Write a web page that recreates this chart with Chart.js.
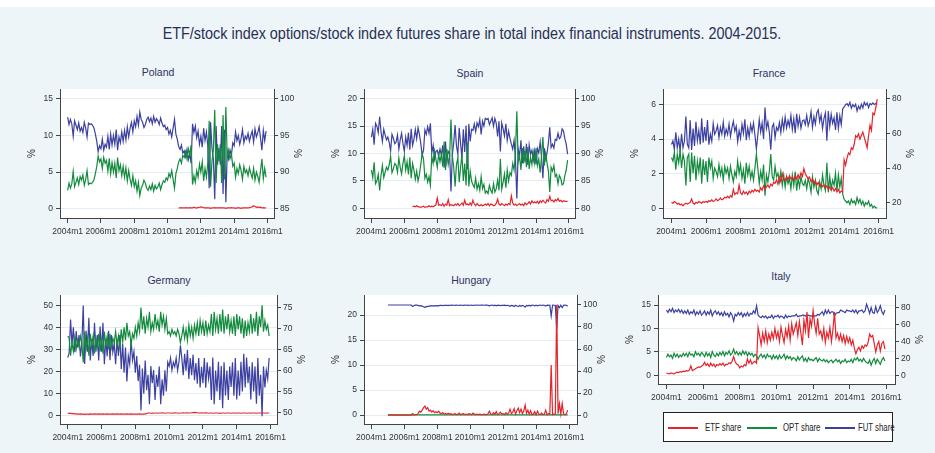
<!DOCTYPE html>
<html>
<head>
<meta charset="utf-8">
<script src="https://cdn.jsdelivr.net/npm/chart.js@4.4.0/dist/chart.umd.min.js"></script>
<style>
  html, body { margin:0; padding:0; }
  body { width:935px; height:453px; background:#fff; position:relative; overflow:hidden;
         font-family:"Liberation Sans",Arial,sans-serif; }
  #bg { position:absolute; left:0; top:7px; width:935px; height:446px; background:#EDF5F8; }
  #title { position:absolute; top:25px; left:472px; font-size:16px; color:#2a2f55; white-space:nowrap;
           transform:translateX(-50%) scaleX(0.9); }
  .ptitle { position:absolute; font-size:10.5px; color:#2d3263; transform:translate(-50%,-50%); white-space:nowrap; }
  .panel { position:absolute; }
  #legend { position:absolute; left:663px; top:412px; width:228px; height:28px; background:#fff; border:1px solid #222; }
  .lg-line { position:absolute; top:14px; width:30px; height:1.5px; }
  .lg-txt { position:absolute; top:8px; font-size:10.5px; color:#222; white-space:nowrap;
            transform:scaleX(0.74); transform-origin:0 0; }
</style>
</head>
<body>
<div id="bg"></div>
<div id="title">ETF/stock index options/stock index futures share in total index financial instruments. 2004-2015.</div>
<div id="legend"></div>
<script>
// monthly values, 2004m1 .. 2015m12 (one row per year)
const seriesNames = ["ETF share", "OPT share", "FUT share"];
const xTicks = [0, 24, 48, 72, 96, 120, 144];
const xLabels = ["2004m1", "2006m1", "2008m1", "2010m1", "2012m1", "2014m1", "2016m1"];

// ---- Poland
const polandETF = Array(80).fill(null).concat([
  0.1, 0.1, 0.15, 0.1,
  0.1, 0.15, 0.1, 0.1, 0.15, 0.1, 0.1, 0.2, 0.1, 0.1, 0.15, 0.2,
  0.25, 0.2, 0.15, 0.1, 0.1, 0.1, 0.1, 0.05, 0.1, 0.1, 0.15, 0.1,
  0.1, 0.1, 0.15, 0.1, 0.1, 0.1, 0.05, 0.1, 0.1, 0.1, 0.15, 0.1,
  0.1, 0.05, 0.1, 0.1, 0.1, 0.05, 0.1, 0.1, 0.1, 0.1, 0.1, 0.15,
  0.2, 0.25, 0.4, 0.3, 0.2, 0.25, 0.15, 0.2, 0.1, 0.15, 0.1, 0.1]);
const polandOPT = [
  2.5, 3.5, 2.8, 3.4, 5.1, 3.0, 3.6, 4.2, 3.3, 4.4, 3.9, 4.6,
  3.2, 4.0, 5.2, 3.3, 3.5, 3.4, 3.6, 4.0, 4.8, 5.8, 7.2, 6.4,
  6.8, 5.5, 7.0, 6.2, 6.6, 5.1, 6.9, 4.8, 6.3, 5.0, 6.2, 4.2,
  7.0, 5.2, 6.0, 4.5, 5.8, 4.3, 5.6, 3.8, 5.2, 4.0, 3.2, 4.5,
  3.0, 3.8, 2.4, 3.6, 1.8, 2.8, 3.2, 3.9, 3.5, 2.8, 2.5, 3.1,
  2.6, 3.4, 2.4, 3.2, 2.7, 3.0, 3.5, 2.6, 3.3, 3.8, 3.6, 4.2,
  3.9, 4.8, 4.3, 5.2, 4.0, 2.8, 4.8, 5.5, 6.4, 6.8, 6.2, 7.3,
  7.0, 7.8, 6.8, 8.2, 7.4, 8.7, 3.3, 4.5, 3.6, 5.2, 4.3, 6.1,
  5.0, 6.4, 3.8, 5.5, 4.3, 6.2, 12.0, 3.0, 6.5, 8.0, 13.5, 3.5,
  8.8, 6.5, 8.8, 3.5, 12.8, 4.0, 13.9, 7.0, 8.0, 6.8, 7.5, 5.8,
  6.2, 4.3, 5.5, 4.8, 6.0, 5.2, 4.0, 5.8, 4.9, 5.3, 4.5, 5.6,
  4.8, 4.2, 5.5, 3.9, 5.0, 4.4, 3.6, 5.2, 6.8, 4.1, 5.5, 4.3];
const polandFUT = [
  97.5, 96.5, 97.2, 96.6, 94.9, 97.0, 96.4, 95.8, 96.7, 95.6, 96.1, 95.4,
  96.8, 96.0, 94.8, 96.7, 96.5, 96.6, 96.4, 96.0, 95.2, 94.2, 92.8, 93.6,
  93.2, 94.5, 93.0, 93.8, 93.4, 94.9, 93.1, 95.2, 93.7, 95.0, 93.8, 95.8,
  93.0, 94.8, 94.0, 95.5, 94.2, 95.7, 94.4, 96.2, 94.8, 96.0, 96.8, 95.5,
  97.0, 96.2, 97.6, 96.4, 98.2, 97.2, 96.8, 96.1, 96.5, 97.2, 97.5, 96.9,
  97.4, 96.6, 97.6, 96.8, 97.3, 97.0, 96.5, 97.4, 96.7, 96.2, 96.4, 95.8,
  96.1, 95.2, 95.7, 94.8, 96.0, 97.2, 95.2, 94.5, 93.5, 93.1, 93.7, 92.6,
  92.9, 92.1, 93.1, 91.7, 92.5, 91.2, 96.6, 95.4, 96.3, 94.7, 95.6, 93.8,
  94.9, 93.4, 96.0, 94.3, 95.5, 93.6, 87.8, 96.8, 93.3, 91.8, 86.3, 96.3,
  91.0, 93.3, 91.0, 96.3, 87.0, 95.8, 85.9, 92.8, 91.8, 93.0, 92.3, 94.0,
  93.6, 95.5, 94.3, 95.0, 93.8, 94.6, 95.8, 94.0, 94.9, 94.5, 95.3, 94.2,
  95.0, 95.6, 94.1, 95.9, 94.8, 95.4, 96.2, 94.6, 93.0, 95.7, 94.3, 95.6];

// ---- Spain
const spainETF = Array(30).fill(null).concat([
  0.3, 0.4, 0.3, 0.5, 0.3, 0.3,
  0.2, 0.3, 0.4, 0.2, 0.3, 0.3, 0.5, 0.3, 0.4, 0.3, 0.5, 0.6,
  1.9, 0.6, 0.7, 0.5, 0.9, 0.4, 0.8, 0.6, 1.6, 0.5, 0.7, 0.6,
  0.5, 0.8, 0.6, 0.9, 0.5, 0.7, 1.0, 0.6, 1.5, 0.7, 0.8, 0.6,
  1.0, 0.6, 1.5, 0.8, 0.5, 0.9, 0.6, 0.5, 0.7, 0.5, 0.6, 0.8,
  0.6, 0.9, 0.5, 0.8, 0.7, 0.5, 0.6, 0.9, 1.7, 0.8, 0.6, 0.9,
  0.7, 0.5, 0.8, 0.6, 0.9, 0.7, 2.3, 1.0, 0.6, 0.8, 0.5, 0.7,
  0.9, 0.6, 0.8, 0.5, 1.0, 0.7, 0.9, 1.2, 0.8, 1.4, 1.0, 1.2,
  1.0, 1.3, 0.9, 1.4, 1.1, 1.5, 1.2, 1.0, 1.6, 1.3, 2.2, 1.4,
  1.5, 1.2, 1.6, 1.4, 1.8, 1.3, 1.5, 1.2, 1.4, 1.3, 1.3, 1.3]);
const spainOPT = [
  7.0, 5.6, 8.4, 4.5, 5.0, 6.2, 3.3, 6.0, 7.8, 5.6, 6.6, 7.5,
  7.0, 8.0, 9.5, 6.5, 7.2, 8.2, 7.9, 6.6, 9.2, 7.5, 6.3, 8.2,
  9.6, 7.0, 8.5, 6.2, 9.3, 5.5, 8.2, 7.0, 5.3, 6.8, 5.0, 6.2,
  8.0, 10.0, 9.0, 5.5, 6.2, 4.8, 5.8, 4.2, 9.5, 8.2, 10.5, 9.0,
  7.5, 9.8, 8.5, 9.8, 7.6, 12.2, 7.0, 10.8, 8.0, 9.5, 16.2, 9.6,
  7.5, 4.0, 8.0, 9.2, 4.8, 7.5, 9.8, 5.0, 8.2, 4.2, 12.0, 4.0,
  6.8, 5.0, 4.3, 3.8, 5.5, 3.5, 4.5, 3.3, 5.8, 3.6, 4.4, 2.8,
  3.2, 2.7, 4.2, 3.3, 2.8, 4.5, 3.0, 3.6, 5.2, 3.3, 9.0, 3.5,
  4.8, 6.3, 3.8, 7.0, 5.0, 6.5, 6.0, 8.2, 7.0, 10.2, 17.7, 8.5,
  9.5, 7.0, 11.0, 8.2, 10.5, 7.5, 11.2, 7.2, 9.3, 8.0, 10.2, 8.3,
  11.0, 7.8, 9.0, 6.5, 9.5, 13.0, 7.8, 10.0, 8.3, 6.8, 3.0, 7.5,
  6.8, 7.8, 5.8, 6.2, 4.5, 6.0, 5.5, 4.3, 4.5, 6.0, 7.0, 8.8];
const spainFUT = [
  93.0, 94.4, 91.6, 95.5, 95.0, 93.8, 96.7, 94.0, 92.2, 94.4, 93.4, 92.5,
  93.0, 92.0, 90.5, 93.5, 92.8, 91.8, 92.1, 93.4, 90.8, 92.5, 93.7, 91.8,
  90.4, 93.0, 91.5, 93.8, 90.7, 94.5, 91.5, 92.6, 94.4, 92.7, 94.7, 93.5,
  91.8, 89.7, 90.6, 94.3, 93.5, 94.9, 93.7, 95.5, 90.1, 91.5, 89.0, 90.4,
  90.6, 89.6, 90.8, 89.7, 91.5, 87.4, 92.2, 88.6, 90.4, 90.0, 83.1, 89.8,
  92.0, 95.2, 91.4, 89.9, 94.7, 91.8, 89.2, 94.4, 90.3, 95.1, 87.2, 95.4,
  92.2, 94.4, 94.2, 95.4, 94.0, 95.6, 94.9, 96.2, 93.5, 95.9, 95.0, 96.4,
  96.2, 96.4, 95.3, 95.9, 96.5, 95.0, 96.4, 95.5, 93.1, 95.9, 90.4, 95.6,
  94.5, 93.2, 95.4, 92.4, 94.1, 92.8, 91.7, 90.8, 92.4, 89.0, 81.8, 90.8,
  89.6, 92.4, 88.2, 91.3, 88.5, 91.8, 87.9, 91.6, 89.9, 90.6, 88.8, 90.5,
  88.0, 90.9, 90.1, 92.1, 89.4, 85.5, 91.0, 89.0, 90.1, 91.9, 94.8, 91.1,
  91.7, 91.0, 92.6, 92.4, 93.7, 92.7, 93.0, 94.5, 94.1, 92.7, 91.7, 89.9];

// ---- France
const franceETF = [
  0.35, 0.30, 0.40, 0.35, 0.25, 0.30, 0.20, 0.25, 0.15, 0.25, 0.30, 0.25,
  0.30, 0.35, 0.55, 0.30, 0.25, 0.35, 0.30, 0.40, 0.35, 0.30, 0.40, 0.35,
  0.40, 0.35, 0.45, 0.40, 0.50, 0.40, 0.45, 0.55, 0.45, 0.50, 0.60, 0.50,
  0.55, 0.65, 0.60, 0.70, 0.60, 0.75, 0.65, 1.10, 0.80, 0.90, 0.85, 1.35,
  0.90, 0.80, 1.00, 0.85, 0.95, 0.80, 1.00, 0.90, 1.05, 0.95, 1.10, 1.00,
  1.05, 0.95, 1.20, 1.05, 1.30, 1.10, 1.25, 1.35, 1.20, 1.40, 1.30, 1.50,
  1.45, 1.65, 1.40, 1.80, 1.55, 2.00, 1.70, 1.60, 1.85, 1.65, 1.90, 1.70,
  1.80, 1.65, 1.90, 1.70, 1.95, 1.75, 2.05, 1.85, 2.30, 2.00, 1.85, 1.70,
  1.80, 1.55, 1.70, 1.45, 1.60, 1.35, 1.50, 1.30, 1.40, 1.25, 1.35, 1.20,
  1.30, 1.10, 1.25, 1.05, 1.20, 1.00, 1.15, 0.95, 1.10, 0.90, 1.00, 0.95,
  2.80, 2.50, 2.90, 3.20, 3.10, 3.50, 3.40, 3.70, 4.20, 4.10, 4.30, 4.00,
  4.20, 4.40, 4.10, 3.80, 3.50, 4.20, 4.80, 4.50, 5.50, 5.40, 5.80, 6.30];
const franceOPT = [
  46, 44, 49, 39, 48, 43, 50, 40, 48, 44, 30, 46,
  48, 32, 49, 37, 47, 33, 44, 38, 46, 31, 45, 36,
  44, 32, 46, 40, 44, 34, 40, 38, 35, 42, 36, 40,
  33, 41, 37, 40, 34, 41, 36, 32, 38, 35, 44, 37,
  42, 34, 39, 31, 43, 36, 41, 34, 38, 33, 40, 48,
  40, 31, 38, 33, 42, 24, 36, 32, 38, 48, 35, 33,
  41, 35, 37, 32, 38, 30, 36, 29, 35, 31, 34, 28,
  36, 30, 38, 27, 34, 29, 35, 31, 30, 33, 28, 34,
  31, 26, 35, 29, 33, 27, 25, 32, 28, 36, 30, 27,
  43, 26, 35, 28, 33, 30, 37, 27, 36, 29, 34, 25,
  22, 21, 20, 21, 19, 22, 20, 21, 19, 23, 20, 22,
  19, 21, 18, 20, 19, 21, 18, 19, 17, 18, 17, 17];
const franceFUT = [
  53.6, 55.7, 50.6, 60.6, 51.7, 56.7, 49.8, 59.7, 51.8, 55.7, 69.7, 53.7,
  51.7, 67.6, 50.4, 62.7, 52.7, 66.6, 55.7, 61.6, 53.6, 68.7, 54.6, 63.6,
  55.6, 67.6, 53.5, 59.6, 55.5, 65.6, 59.5, 61.4, 64.5, 57.5, 63.4, 59.5,
  66.4, 58.3, 62.4, 59.3, 65.4, 58.2, 63.3, 66.9, 61.2, 64.1, 55.1, 61.6,
  57.1, 65.2, 60.0, 68.1, 56.0, 63.2, 58.0, 65.1, 61.0, 66.0, 58.9, 51.0,
  59.0, 68.0, 60.8, 65.9, 56.7, 74.9, 62.8, 66.6, 60.8, 50.6, 63.7, 65.5,
  57.5, 63.4, 61.6, 66.2, 60.5, 68.0, 62.3, 69.4, 63.2, 67.4, 64.1, 70.3,
  62.2, 68.4, 60.1, 71.3, 64.1, 69.3, 62.9, 67.2, 67.7, 65.0, 70.2, 64.3,
  67.2, 72.5, 63.3, 69.6, 65.4, 71.7, 73.5, 66.7, 70.6, 62.8, 68.7, 71.8,
  55.7, 72.9, 63.8, 71.0, 65.8, 69.0, 61.9, 72.1, 62.9, 70.1, 65.0, 74.1,
  75.2, 76.5, 77.1, 75.8, 77.9, 74.5, 76.6, 75.3, 76.8, 72.9, 75.7, 74.0,
  76.8, 74.6, 77.9, 76.2, 77.5, 74.8, 77.2, 76.5, 77.5, 76.6, 77.2, 76.7];

// ---- Germany
const germanyETF = [
  0.9, 0.8, 0.8, 0.7, 0.7, 0.6, 0.6, 0.5, 0.5, 0.6, 0.5, 0.5,
  0.4, 0.5, 0.5, 0.4, 0.6, 0.5, 0.5, 0.6, 0.5, 0.5, 0.6, 0.5,
  0.5, 0.6, 0.5, 0.5, 0.6, 0.5, 0.5, 0.5, 0.6, 0.5, 0.5, 0.6,
  0.5, 0.5, 0.6, 0.5, 0.5, 0.5, 0.6, 0.5, 0.5, 0.6, 0.5, 0.5,
  0.5, 0.5, 0.5, 0.6, 0.5, 0.5, 0.5, 0.6, 0.7, 1.0, 1.0, 0.9,
  1.0, 0.9, 1.0, 1.0, 0.9, 1.0, 1.0, 1.1, 1.0, 0.9, 1.0, 1.0,
  1.0, 1.0, 0.9, 1.0, 1.1, 1.0, 1.0, 0.9, 1.0, 1.0, 1.1, 1.0,
  1.0, 1.1, 1.0, 1.0, 1.1, 1.2, 1.3, 1.2, 1.1, 1.0, 1.0, 1.1,
  1.0, 1.0, 1.1, 1.0, 0.9, 1.0, 1.0, 0.9, 1.0, 1.0, 1.0, 0.9,
  1.0, 0.9, 1.0, 1.0, 0.9, 1.0, 1.0, 1.0, 0.9, 1.0, 1.0, 1.0,
  0.9, 1.0, 1.0, 0.9, 1.0, 1.0, 1.0, 0.9, 1.0, 1.0, 0.9, 1.0,
  1.0, 1.0, 0.9, 1.0, 1.0, 1.0, 0.9, 1.0, 1.0, 0.9, 1.0, 1.0];
const germanyOPT = [
  36, 35, 27, 33, 29, 35, 30, 34, 31, 36, 33, 24,
  38, 30, 35, 27, 37, 32, 36, 28, 35, 31, 37, 29,
  35, 28, 38, 32, 36, 30, 37, 31, 35, 33, 38, 32,
  36, 31, 39, 33, 40, 34, 42, 36, 38, 32, 37, 35,
  40, 36, 42, 38, 49, 39, 45, 37, 44, 40, 47, 38,
  42, 39, 46, 40, 43, 38, 47, 41, 45, 39, 44, 37,
  38, 36, 39, 37, 38, 36, 39, 37, 33, 36, 40, 35,
  39, 34, 41, 36, 40, 35, 41, 37, 42, 36, 43, 38,
  42, 36, 43, 37, 41, 38, 46, 36, 47, 39, 44, 37,
  46, 38, 48, 37, 45, 39, 46, 38, 43, 37, 45, 36,
  46, 39, 45, 37, 44, 35, 43, 36, 42, 38, 46, 37,
  44, 38, 47, 36, 45, 40, 50, 38, 43, 39, 41, 36];
const germanyFUT = [
  63.1, 64.2, 72.2, 66.3, 70.3, 64.4, 69.4, 65.5, 68.5, 63.4, 66.5, 75.5,
  61.6, 69.5, 64.5, 72.6, 62.4, 67.5, 63.5, 71.4, 64.5, 68.5, 62.4, 70.5,
  64.5, 71.4, 61.5, 67.5, 63.4, 69.5, 62.5, 68.5, 64.4, 66.5, 61.5, 67.4,
  63.5, 68.5, 60.4, 66.5, 59.5, 65.5, 57.4, 63.5, 61.5, 67.4, 62.5, 64.5,
  59.5, 63.5, 57.5, 61.4, 50.5, 60.5, 54.5, 62.4, 55.3, 59.0, 52.0, 61.1,
  57.0, 60.1, 53.0, 59.0, 56.1, 61.0, 52.0, 57.9, 54.0, 60.1, 55.0, 62.0,
  61.0, 63.0, 60.1, 62.0, 60.9, 63.0, 60.0, 62.1, 66.0, 63.0, 58.9, 64.0,
  60.0, 64.9, 58.0, 63.0, 58.9, 63.8, 57.7, 61.8, 56.9, 63.0, 56.0, 60.9,
  57.0, 63.0, 55.9, 62.0, 58.1, 61.0, 53.0, 63.1, 52.0, 60.0, 55.0, 62.1,
  53.0, 61.1, 51.0, 62.0, 54.1, 60.0, 53.0, 61.0, 56.1, 62.0, 54.0, 63.0,
  53.1, 60.0, 54.0, 62.1, 55.0, 64.0, 56.0, 63.1, 57.0, 61.0, 53.1, 62.0,
  55.0, 61.0, 52.1, 63.0, 54.0, 59.0, 49.1, 61.0, 56.0, 60.1, 58.0, 63.0];

// ---- Hungary (from 2005m1)
const hungaryETF = Array(12).fill(null).concat([
  0, 0, 0, 0, 0, 0, 0, 0, 0, 0, 0, 0,
  0, 0, 0, 0, 0, 0, 0, 0.05, 0.1, 0.1, 0.3, 0.8,
  0.6, 1.0, 1.5, 1.8, 1.2, 1.5, 0.8, 1.0, 0.6, 0.9, 0.5, 0.7,
  0.5, 0.8, 0.4, 0.3, 0.5, 0.2, 0.3, 0.2, 0.4, 0.2, 0.3, 0.1,
  0.2, 0.3, 0.1, 0.2, 0.4, 0.1, 0.2, 0.3, 0.1, 0.2, 0.1, 0.3,
  0.2, 0.1, 0.4, 0.2, 0.1, 0.2, 0.1, 0.2, 0.1, 0.1, 0.2, 0.1,
  0.1, 0.3, 0.8, 0.2, 0.1, 0.5, 0.2, 0.7, 0.1, 0.3, 0.6, 0.2,
  0.3, 0.1, 0.5, 0.2, 0.4, 1.2, 0.3, 0.6, 1.3, 0.2, 0.9, 1.4,
  0.5, 1.2, 0.3, 0.8, 2.0, 0.4, 1.0, 0.2, 0.9, 0.1, 0.2, 0.7,
  0.1, 0.8, 0.2, 0.1, 0.4, 0.1, 0.2, 1.0, 0.1, 0.3, 0.2, 10.0,
  0.1, 0.2, 0.2, 22.0, 0.3, 2.3, 0.2, 2.3, 0.3, 0.1, 0.2, 1.0]);
const hungaryOPT = Array(12).fill(null).concat([
  0.05, 0.05, 0.05, 0.05, 0.05, 0.05, 0.05, 0.05, 0.05, 0.05, 0.05, 0.05,
  0.05, 0.05, 0.05, 0.05, 0.05, 0.1, 0.3, 0.05, 0.05, 0.05, 0.05, 0.05,
  0.05, 0.05, 0.05, 0.05, 0.05, 0.05, 0.05, 0.05, 0.05, 0.05, 0.05, 0.05,
  0.05, 0.05, 0.05, 0.05, 0.05, 0.05, 0.05, 0.05, 0.05, 0.05, 0.05, 0.05,
  0.05, 0.05, 0.05, 0.05, 0.05, 0.05, 0.05, 0.05, 0.05, 0.05, 0.05, 0.05,
  0.05, 0.05, 0.05, 0.05, 0.05, 0.05, 0.05, 0.05, 0.05, 0.05, 0.05, 0.05,
  0.05, 0.05, 0.05, 0.05, 0.05, 0.05, 0.05, 0.05, 0.05, 0.05, 0.05, 0.05,
  0.05, 0.05, 0.05, 0.05, 0.05, 0.05, 0.05, 0.05, 0.05, 0.05, 0.05, 0.05,
  0.05, 0.05, 0.05, 0.05, 0.05, 0.05, 0.05, 0.05, 0.05, 0.05, 0.05, 0.05,
  0.05, 0.05, 0.05, 0.05, 0.05, 0.05, 0.05, 0.05, 0.05, 0.05, 0.05, 0.05,
  0.05, 0.05, 0.05, 0.05, 0.05, 0.05, 0.05, 0.05, 0.05, 0.05, 0.05, 0.05]);
const hungaryFUT = Array(12).fill(null).concat([
  99.9, 99.9, 99.9, 99.9, 99.9, 99.9, 99.9, 99.9, 99.9, 99.9, 99.9, 99.9,
  99.9, 99.9, 99.9, 99.9, 99.9, 99.8, 98.6, 99.4, 99.8, 99.8, 99.6, 99.1,
  99.3, 98.9, 98.4, 97.6, 98.7, 98.4, 99.1, 98.9, 99.3, 99.0, 99.4, 99.2,
  99.4, 99.1, 99.5, 99.6, 99.4, 99.7, 99.6, 99.7, 99.5, 99.7, 99.6, 99.8,
  99.7, 99.6, 99.8, 99.7, 99.5, 99.8, 99.7, 99.6, 99.8, 99.7, 99.8, 99.6,
  99.7, 99.8, 99.5, 99.7, 99.8, 99.7, 99.8, 99.7, 99.8, 99.8, 99.7, 99.8,
  99.8, 99.6, 99.1, 99.7, 99.8, 99.4, 99.7, 99.2, 99.8, 99.6, 99.3, 99.7,
  99.6, 99.8, 99.4, 99.7, 99.5, 98.7, 99.6, 99.3, 98.6, 99.7, 99.0, 98.5,
  99.4, 98.7, 99.6, 99.1, 97.9, 99.5, 98.9, 99.7, 99.0, 99.8, 99.7, 99.2,
  99.8, 99.1, 99.7, 99.8, 99.5, 99.8, 99.7, 98.9, 99.8, 99.6, 99.7, 89.9,
  99.8, 99.7, 99.7, 77.9, 99.6, 97.6, 99.7, 97.6, 99.6, 99.8, 99.7, 98.9]);

// ---- Italy
const italyETF = [
  0.5, 0.4, 0.3, 0.5, 0.4, 0.3, 0.5, 0.7, 0.6, 0.8, 0.7, 0.9,
  0.8, 1.0, 0.9, 1.1, 2.0, 1.0, 1.2, 1.4, 1.6, 1.8, 1.7, 2.0,
  2.2, 2.8, 2.1, 2.5, 1.9, 2.6, 2.0, 2.4, 1.8, 2.3, 2.1, 2.5,
  2.2, 2.6, 2.0, 2.4, 2.3, 2.7, 2.5, 3.0, 4.0, 2.9, 2.4, 2.2,
  1.6, 2.0, 1.8, 2.3, 2.0, 3.5, 2.6, 3.3, 2.4, 2.8, 3.0, 2.6,
  10.2, 8.5, 6.5, 9.0, 7.2, 9.5, 7.0, 8.8, 7.5, 9.2, 7.8, 10.0,
  8.0, 9.3, 7.2, 10.3, 8.5, 7.0, 9.8, 8.2, 10.5, 7.5, 11.0, 8.8,
  10.0, 11.2, 8.5, 11.5, 9.0, 6.5, 11.8, 9.5, 13.5, 8.0, 12.0, 10.5,
  13.8, 11.0, 9.0, 12.2, 8.8, 9.5, 7.8, 10.0, 7.0, 9.2, 8.0, 10.2,
  7.2, 9.8, 13.5, 8.0, 9.0, 7.5, 8.8, 7.2, 8.5, 6.8, 8.3, 7.0,
  8.0, 6.5, 7.5, 5.8, 4.6, 5.5, 6.0, 5.2, 6.3, 5.8, 6.5, 6.2,
  7.0, 8.8, 8.2, 8.5, 6.8, 5.0, 6.5, 7.2, 5.2, 6.8, 7.2, 5.6];
const italyOPT = [
  21, 25, 22, 24, 20, 26, 22, 25, 21, 24, 22, 26,
  23, 26, 22, 27, 24, 25, 22, 28, 24, 26, 23, 27,
  25, 22, 27, 23, 26, 21, 28, 24, 22, 26, 23, 27,
  24, 28, 23, 27, 25, 29, 24, 26, 31, 25, 28, 24,
  27, 24, 29, 25, 28, 23, 27, 24, 26, 22, 25, 23,
  19, 23, 25, 21, 24, 20, 25, 22, 23, 19, 24, 20,
  23, 19, 24, 20, 22, 25, 19, 23, 20, 22, 18, 21,
  20, 17, 22, 18, 21, 23, 17, 20, 16, 21, 18, 19,
  17, 19, 21, 16, 20, 18, 17, 19, 16, 18, 15, 17,
  18, 15, 17, 19, 16, 18, 14, 17, 16, 19, 15, 17,
  16, 19, 15, 20, 18, 21, 17, 19, 16, 20, 17, 15,
  14, 18, 12, 17, 20, 14, 19, 16, 13, 18, 21, 17];
const italyFUT = [
  77, 74, 78, 75, 79, 74, 77, 75, 78, 74, 77, 73,
  76, 73, 77, 72, 75, 73, 77, 71, 75, 72, 76, 71,
  73, 76, 71, 75, 72, 77, 70, 74, 76, 72, 75, 71,
  74, 70, 75, 71, 73, 69, 74, 71, 64, 72, 70, 74,
  71, 74, 69, 73, 70, 74, 70, 73, 72, 76, 73, 82,
  71, 69, 68, 70, 68, 70, 67, 69, 68, 71, 67, 70,
  69, 71, 68, 70, 69, 67, 71, 68, 70, 69, 70, 70,
  70, 72, 69, 70, 70, 71, 71, 70, 71, 71, 70, 70,
  69, 70, 70, 72, 71, 73, 75, 71, 77, 73, 77, 73,
  75, 75, 70, 73, 74, 74, 77, 76, 75, 74, 77, 76,
  76, 75, 77, 74, 77, 73, 76, 76, 77, 74, 76, 84,
  79, 73, 80, 74, 73, 81, 74, 77, 82, 75, 72, 77];

const COL = { etf: "#E3242B", opt: "#138A3E", fut: "#3C40A0" };
const TXT = "#333333", AXC = "#444444", GRID = "#E3EEF3";
const AX_L = 34, AX_R = 29, AX_B = 26, PAD_T = 2;

// plot rectangle (page px) + axis ranges for each panel
const panels = [
  { name:"Poland",  L:60,  T:83, R:274, B:218, tx:158, ty:72,
    etf:polandETF, opt:polandOPT, fut:polandFUT, optAxis:"yL",
    x:[-5.5,148.7], yL:[-1.27,16.34], yLt:[0,5,10,15], yR:[83.73,101.34], yRt:[85,90,95,100] },
  { name:"Spain",   L:364, T:83, R:575, B:218, tx:470, ty:73,
    etf:spainETF, opt:spainOPT, fut:spainFUT, optAxis:"yL",
    x:[-5.4,148.4], yL:[-1.74,21.74], yLt:[0,5,10,15,20], yR:[78.26,101.74], yRt:[80,85,90,95,100] },
  { name:"France",  L:663, T:83, R:886, B:218, tx:769, ty:73,
    etf:franceETF, opt:franceOPT, fut:franceFUT, optAxis:"yR",
    x:[-5.9,149.1], yL:[-0.55,6.88], yLt:[0,2,4,6], yR:[11.2,85.5], yRt:[20,40,60,80] },
  { name:"Germany", L:60,  T:289, R:277, B:424, tx:169, ty:280,
    etf:germanyETF, opt:germanyOPT, fut:germanyFUT, optAxis:"yL",
    x:[-5.5,148.6], yL:[-4.0,54.6], yLt:[0,10,20,30,40,50], yR:[47.27,78.0], yRt:[50,55,60,65,70,75] },
  { name:"Hungary", L:364, T:289, R:577, B:424, tx:471, ty:280,
    etf:hungaryETF, opt:hungaryOPT, fut:hungaryFUT, optAxis:"yL",
    x:[-5.4,149.8], yL:[-1.77,24.0], yLt:[0,5,10,15,20], yR:[-8.0,108.9], yRt:[0,20,40,60,80,100] },
  { name:"Italy",   L:658, T:289, R:895, B:384, tx:781, ty:276,
    etf:italyETF, opt:italyOPT, fut:italyFUT, optAxis:"yR",
    x:[-5.5,149.6], yL:[-1.85,17.13], yLt:[0,5,10,15], yR:[-10.2,94.6], yRt:[0,20,40,60,80] },
];

Chart.defaults.font.family = "'Liberation Sans',Arial,sans-serif";
Chart.defaults.color = TXT;

const whitePlot = {
  id: "whitePlot",
  beforeDraw(chart) {
    const a = chart.chartArea, c = chart.ctx;
    c.save(); c.fillStyle = "#fff"; c.fillRect(a.left, a.top, a.right - a.left, a.bottom - a.top); c.restore();
  }
};

function ds(label, arr, color, axis) {
  return { label, data: arr.map((v, i) => ({ x: i, y: v })), borderColor: color, backgroundColor: color,
           yAxisID: axis, borderWidth: 1.2, pointRadius: 0, tension: 0, spanGaps: false };
}

function fixTicks(list) { return s => { s.ticks = list.map(v => ({ value: v })); }; }

panels.forEach(p => {
  const t = document.createElement("div");
  t.className = "ptitle"; t.style.left = p.tx + "px"; t.style.top = p.ty + "px"; t.textContent = p.name;
  document.body.appendChild(t);

  const box = document.createElement("div");
  box.className = "panel";
  box.style.left = (p.L - AX_L) + "px";
  box.style.top = (p.T - PAD_T) + "px";
  box.style.width = (p.R - p.L + AX_L + AX_R) + "px";
  box.style.height = (p.B - p.T + PAD_T + AX_B) + "px";
  const cv = document.createElement("canvas");
  box.appendChild(cv);
  document.body.appendChild(box);

  const tickFont = { size: 8.5 };
  new Chart(cv, {
    type: "line",
    data: { datasets: [
      ds(seriesNames[0], p.etf, COL.etf, "yL"),
      ds(seriesNames[1], p.opt, COL.opt, p.optAxis),
      ds(seriesNames[2], p.fut, COL.fut, "yR"),
    ] },
    options: {
      responsive: true, maintainAspectRatio: false, animation: false,
      layout: { padding: { top: PAD_T, left: 0, right: 0, bottom: 0 } },
      plugins: { legend: { display: false }, tooltip: { enabled: false } },
      scales: {
        x: { type: "linear", min: p.x[0], max: p.x[1],
             afterBuildTicks: fixTicks(xTicks),
             ticks: { autoSkip: false, maxRotation: 0, padding: 4, font: tickFont,
                      callback: (v, i) => xLabels[i] },
             grid: { drawOnChartArea: false, tickLength: 5, tickColor: AXC },
             border: { color: AXC, width: 1 },
             afterFit: s => { s.height = AX_B; } },
        yL: { position: "left", min: p.yL[0], max: p.yL[1],
              afterBuildTicks: fixTicks(p.yLt),
              ticks: { padding: 3, font: tickFont },
              grid: { color: GRID, tickLength: 4, tickColor: AXC },
              border: { color: AXC, width: 1 },
              title: { display: true, text: "%", font: { size: 10 }, padding: 0 },
              afterFit: s => { s.width = AX_L; } },
        yR: { position: "right", min: p.yR[0], max: p.yR[1],
              afterBuildTicks: fixTicks(p.yRt),
              ticks: { padding: 2, font: tickFont },
              grid: { drawOnChartArea: false, tickLength: 4, tickColor: AXC },
              border: { color: AXC, width: 1 },
              title: { display: true, text: "%", font: { size: 10 }, padding: 0 },
              afterFit: s => { s.width = AX_R; } },
      }
    },
    plugins: [whitePlot]
  });
});

// legend
const lg = document.getElementById("legend");
const lgPos = [[4, 41], [83, 119], [161, 194]];
[COL.etf, COL.opt, COL.fut].forEach((c, i) => {
  const ln = document.createElement("div");
  ln.className = "lg-line"; ln.style.left = lgPos[i][0] + "px"; ln.style.background = c;
  const tx = document.createElement("div");
  tx.className = "lg-txt"; tx.style.left = lgPos[i][1] + "px"; tx.textContent = seriesNames[i];
  lg.appendChild(ln); lg.appendChild(tx);
});
</script>
</body>
</html>
